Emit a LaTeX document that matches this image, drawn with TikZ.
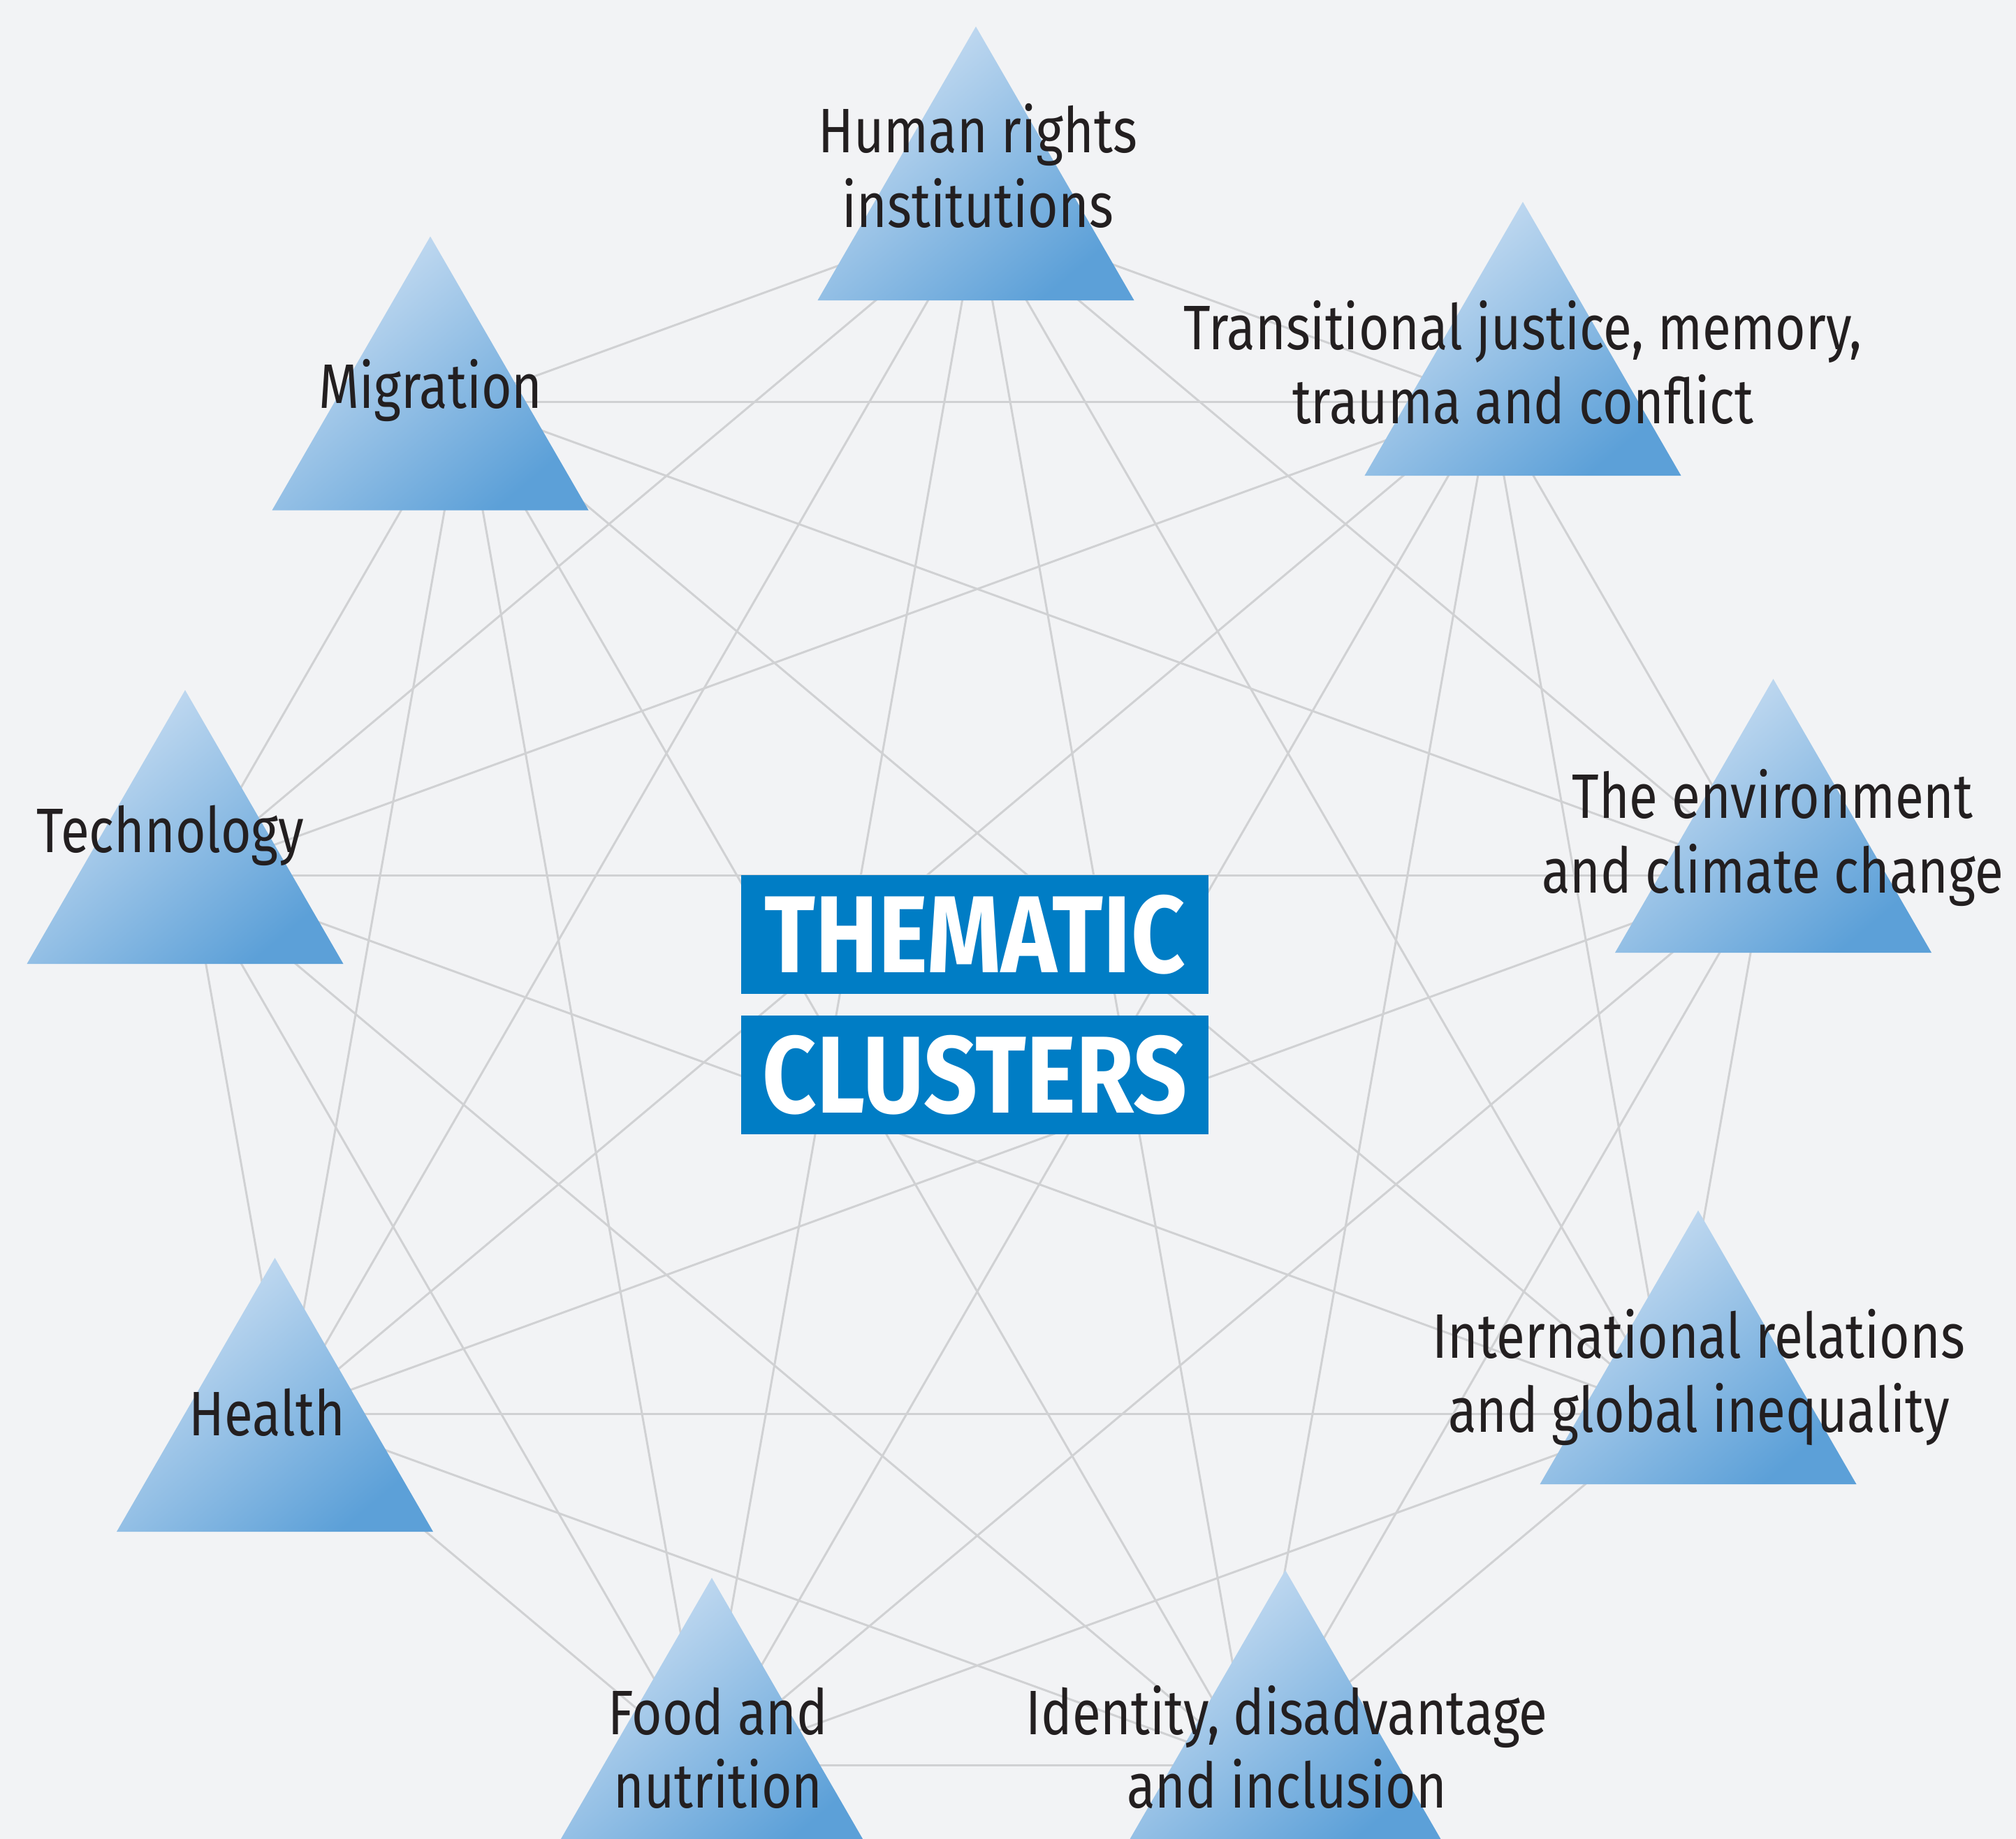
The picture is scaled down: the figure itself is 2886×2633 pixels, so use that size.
\documentclass[tikz,border=0pt]{standalone}
\usepackage{fontspec}
\newfontfamily\labelfont{Fira Sans}[FakeStretch=0.83]
\newfontfamily\titlefont{Fira Sans}[FakeStretch=0.86]
\definecolor{bg}{RGB}{242,243,245}
\definecolor{linegray}{RGB}{208,209,211}
\definecolor{trilight}{RGB}{205,224,243}
\definecolor{tridark}{RGB}{92,160,216}
\definecolor{boxblue}{RGB}{0,125,197}
\definecolor{labeltext}{RGB}{35,31,32}
\tikzset{
  link/.style={draw=linegray, line width=0.3mm},
  trifill/.style={top color=trilight, bottom color=tridark, shading angle=40},
  lbl/.style={font=\labelfont\fontsize{25.6}{30}\selectfont, text=labeltext, inner sep=0pt, anchor=base},
  titlebox/.style={fill=boxblue, text=white, font=\titlefont\bfseries\fontsize{44.6}{50}\selectfont,
    minimum width=66.9mm, minimum height=17mm, inner sep=0pt}
}
\newcommand\cltri[2]{\shade[trifill] (#1,#2) -- ++(226.5,392) -- ++(-453,0) -- cycle;}
\begin{document}
\begin{tikzpicture}[x=0.1mm,y=-0.1mm]
\useasboundingbox (0,0) rectangle (2886,2633);
\clip (0,0) rectangle (2886,2633);
\fill[bg] (0,0) rectangle (2886,2633);
% hub points of the nine clusters
\coordinate (v1) at (1399,308);
\coordinate (v2) at (2134.3,575.7);
\coordinate (v3) at (2525.6,1253.3);
\coordinate (v4) at (2389.7,2024);
\coordinate (v5) at (1790.3,2527);
\coordinate (v6) at (1007.7,2527);
\coordinate (v7) at (408.3,2024);
\coordinate (v8) at (272.4,1253.3);
\coordinate (v9) at (663.7,575.7);
% connectors: every pair
\foreach \i in {1,...,8}{
  \pgfmathtruncatemacro\k{\i+1}
  \foreach \j in {\k,...,9}{
    \draw[link] (v\i) -- (v\j);
  }
}
% triangles
\cltri{1397}{38}
\cltri{2180}{289}
\cltri{616}{338.5}
\cltri{265}{988}
\cltri{2538.5}{972}
\cltri{2431}{1733}
\cltri{393.5}{1801}
\cltri{1019}{2259}
\cltri{1840}{2248}
% labels
\node[lbl] (hra) at (1400,218.3) {Human rights};
\node[lbl] (hrb) at (1400,325) {institutions};
\node[lbl] (tja) at (2180,500.7) {Transitional justice, memory,};
\node[lbl] (tjb) at (2180,606.7) {trauma and conflict};
\node[lbl] (mig) at (616.5,584) {Migration};
\node[lbl] (tec) at (244,1220) {Technology};
\node[lbl] (enva) at (2537.5,1171.7) {The environment};
\node[lbl] (envb) at (2537.5,1278) {and climate change};
\node[lbl] (ira) at (2432,1944) {International relations};
\node[lbl] (irb) at (2432,2050.7) {and global inequality};
\node[lbl] (hea) at (382.6,2055) {Health};
\node[lbl] (fooa) at (1028,2483) {Food and};
\node[lbl] (foob) at (1028,2588) {nutrition};
\node[lbl] (ida) at (1842,2483) {Identity, disadvantage};
\node[lbl] (idb) at (1842,2588) {and inclusion};
% title
\node[titlebox] (them) at (1395.5,1338) {THEMATIC};
\node[titlebox] (clus) at (1395.5,1539) {CLUSTERS};
\end{tikzpicture}
\end{document}
